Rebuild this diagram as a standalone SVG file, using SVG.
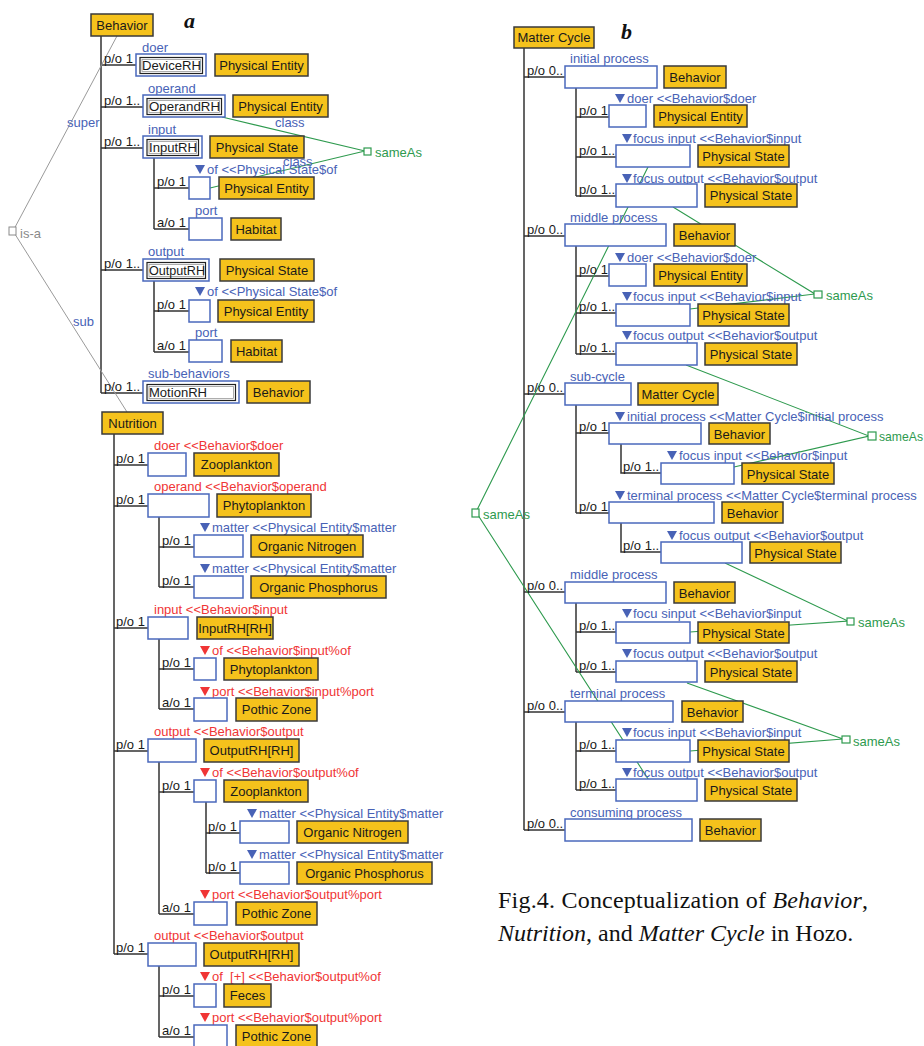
<svg xmlns="http://www.w3.org/2000/svg" xmlns:xlink="http://www.w3.org/1999/xlink" width="924" height="1046" viewBox="0 0 924 1046">
<style>
text{font-family:"Liberation Sans",Arial,sans-serif;font-size:13px;fill:#1a1a1a}
.c{text-anchor:middle}
.bl{fill:#4862B6}
.rd{fill:#F03535}
.gn{fill:#2E9A4E}
.gy{fill:#8a8a8a}
.o{fill:#F5C21C;stroke:#3a3a3a;stroke-width:1.5}
.b{fill:#fff;stroke:#4A68BC;stroke-width:1.5}
.in{fill:none;stroke:#222;stroke-width:1.2}
.in2{fill:none;stroke:#999;stroke-width:0.8}
.ln{fill:none;stroke:#333;stroke-width:1.5}
.gl{fill:none;stroke:#2E9A4E;stroke-width:1.1}
.gyl{fill:none;stroke:#9a9a9a;stroke-width:1}
.sq{fill:#fff;stroke:#2E9A4E;stroke-width:1.2}
.cap{font-family:"Liberation Serif","Times New Roman",serif;font-size:24px;fill:#111}
.lt{font-family:"Liberation Serif","Times New Roman",serif;font-size:22px;font-weight:bold;font-style:italic;fill:#111}
</style>
<defs>
<path id="tri" d="M0,0H10L5,9Z"/>
</defs>
<rect width="924" height="1046" fill="#fff"/>

<g id="connectors">
<path class="ln" d="M101,36V393M101,65H136M101,107H143M101,148H143M101,270H143M101,393H143"/>
<path class="ln" d="M154,158V229M154,188H189M154,229H189"/>
<path class="ln" d="M154,281V352M154,311H189M154,352H189"/>
<path class="ln" d="M114,434V954M114,465H148M114,506H148M114,628H148M114,751H148M114,954H148"/>
<path class="ln" d="M159,517V587M159,547H194M159,587H194"/>
<path class="ln" d="M159,639V709M159,669H194M159,709H194"/>
<path class="ln" d="M159,762V914M159,792H194M159,914H194"/>
<path class="ln" d="M206,802V873M206,833H240M206,873H240"/>
<path class="ln" d="M159,966V1037M159,996H194M159,1037H194"/>
<path class="ln" d="M524,48V830M524,77H565M524,236H565M524,394H565M524,592H565M524,712H565M524,830H565"/>
<path class="ln" d="M576,88V196M576,117H609M576,157H616M576,196H616"/>
<path class="ln" d="M576,246V354M576,276H609M576,313H616M576,354H616"/>
<path class="ln" d="M576,405V513M576,433H609M576,513H609"/>
<path class="ln" d="M621,444V473H661M621,523V552H661"/>
<path class="ln" d="M576,603V672M576,632H616M576,672H616"/>
<path class="ln" d="M576,722V790M576,751H616M576,790H616"/>
<path class="gyl" d="M117,36L13,231L127,412"/>
<path class="gl" d="M222,117L365,151L210,188"/>
<path class="gl" d="M673,207L815,294L690,309"/>
<path class="gl" d="M686,365L869,436L734,467"/>
<path class="gl" d="M725,563L848,621L690,632"/>
<path class="gl" d="M687,683L843,739L690,751"/>
<path class="gl" d="M650,163L476,512L650,782"/>
</g>

<g id="label-a"><text class="lt" x="184" y="28">a</text></g>
<g id="label-b"><text class="lt" x="621" y="39">b</text></g>

<g id="isa-node">
<rect x="9" y="227" width="7" height="8" fill="#fff" stroke="#8a8a8a" stroke-width="1"/>
<text class="gy" x="20" y="238">is-a</text>
<text class="bl" x="67" y="127">super</text>
<text class="bl" x="73" y="326">sub</text>
</g>

<g id="sameas-a">
<rect class="sq" x="364" y="148" width="7" height="7"/>
<text class="gn" x="375" y="157">sameAs</text>
<text class="bl" x="275" y="127">class</text>
<text class="bl" x="283" y="166">class</text>
</g>

<g id="behavior">
<rect class="o" x="91" y="14" width="62" height="22"/>
<text class="c" x="122" y="30">Behavior</text>
</g>

<g id="b-doer">
<text x="104" y="63">p/o 1</text>
<text class="bl" x="142" y="52">doer</text>
<rect class="b" x="136" y="54" width="70" height="22"/>
<rect class="in" x="140" y="57.5" width="62.5" height="16"/>
<rect class="in2" x="142" y="59.5" width="58.5" height="12"/>
<text x="142" y="70" textLength="59" lengthAdjust="spacingAndGlyphs">DeviceRH</text>
<rect class="o" x="215" y="54" width="93" height="22"/>
<text class="c" x="261.5" y="70">Physical Entity</text>
</g>

<g id="b-operand">
<text x="104" y="105">p/o 1..</text>
<text class="bl" x="148" y="93">operand</text>
<rect class="b" x="143" y="95" width="82" height="22"/>
<rect class="in" x="147" y="98.5" width="74.5" height="16"/>
<rect class="in2" x="149" y="100.5" width="70.5" height="12"/>
<text x="149" y="111" textLength="71" lengthAdjust="spacingAndGlyphs">OperandRH</text>
<rect class="o" x="233" y="95" width="95" height="22"/>
<text class="c" x="280.5" y="111">Physical Entity</text>
</g>

<g id="b-input">
<text x="104" y="146">p/o 1..</text>
<text class="bl" x="148" y="134">input</text>
<rect class="b" x="143" y="136" width="59" height="22"/>
<rect class="in" x="147" y="139.5" width="51.5" height="16"/>
<rect class="in2" x="149" y="141.5" width="47.5" height="12"/>
<text x="149" y="152" textLength="48" lengthAdjust="spacingAndGlyphs">InputRH</text>
<rect class="o" x="210" y="136" width="94" height="22"/>
<text class="c" x="257" y="152">Physical State</text>
</g>

<g id="b-input-of">
<text x="157" y="186">p/o 1</text>
<use href="#tri" x="195" y="165" class="bl"/>
<text class="bl" x="207" y="174">of &lt;&lt;Physical State$of</text>
<rect class="b" x="189" y="177" width="21" height="22"/>
<rect class="o" x="219" y="177" width="95" height="22"/>
<text class="c" x="266.5" y="193">Physical Entity</text>
</g>

<g id="b-input-port">
<text x="157" y="227">a/o 1</text>
<text class="bl" x="195" y="215">port</text>
<rect class="b" x="189" y="218" width="33" height="22"/>
<rect class="o" x="231" y="218" width="50" height="22"/>
<text class="c" x="256" y="234">Habitat</text>
</g>

<g id="b-output">
<text x="104" y="268">p/o 1..</text>
<text class="bl" x="148" y="256">output</text>
<rect class="b" x="143" y="259" width="66" height="22"/>
<rect class="in" x="147" y="262.5" width="58.5" height="16"/>
<rect class="in2" x="149" y="264.5" width="54.5" height="12"/>
<text x="149" y="275" textLength="56" lengthAdjust="spacingAndGlyphs">OutputRH</text>
<rect class="o" x="220" y="259" width="94" height="22"/>
<text class="c" x="267" y="275">Physical State</text>
</g>

<g id="b-output-of">
<text x="157" y="309">p/o 1</text>
<use href="#tri" x="195" y="287" class="bl"/>
<text class="bl" x="207" y="296">of &lt;&lt;Physical State$of</text>
<rect class="b" x="189" y="300" width="21" height="22"/>
<rect class="o" x="218" y="300" width="96" height="22"/>
<text class="c" x="266" y="316">Physical Entity</text>
</g>

<g id="b-output-port">
<text x="157" y="350">a/o 1</text>
<text class="bl" x="195" y="337">port</text>
<rect class="b" x="189" y="340" width="33" height="22"/>
<rect class="o" x="231" y="340" width="51" height="22"/>
<text class="c" x="256.5" y="356">Habitat</text>
</g>

<g id="b-sub">
<text x="104" y="391">p/o 1..</text>
<text class="bl" x="148" y="378">sub-behaviors</text>
<rect class="b" x="143" y="381" width="96" height="22"/>
<rect class="in" x="147" y="384.5" width="88.5" height="16"/>
<rect class="in2" x="149" y="386.5" width="84.5" height="12"/>
<text x="149" y="397" textLength="58" lengthAdjust="spacingAndGlyphs">MotionRH</text>
<rect class="o" x="247" y="381" width="63" height="22"/>
<text class="c" x="278.5" y="397">Behavior</text>
</g>

<g id="nutrition">
<rect class="o" x="102" y="412" width="61" height="22"/>
<text class="c" x="132.5" y="428">Nutrition</text>
</g>

<g id="n-doer">
<text x="116" y="463">p/o 1</text>
<text class="rd" x="154" y="450">doer &lt;&lt;Behavior$doer</text>
<rect class="b" x="148" y="453" width="38" height="23"/>
<rect class="o" x="194" y="453" width="85" height="23"/>
<text class="c" x="236.5" y="469">Zooplankton</text>
</g>

<g id="n-operand">
<text x="116" y="504">p/o 1</text>
<text class="rd" x="154" y="491">operand &lt;&lt;Behavior$operand</text>
<rect class="b" x="148" y="494" width="61" height="23"/>
<rect class="o" x="217" y="494" width="94" height="23"/>
<text class="c" x="264" y="510">Phytoplankton</text>
</g>

<g id="n-operand-m1">
<text x="162" y="545">p/o 1</text>
<use href="#tri" x="200" y="523" class="bl"/>
<text class="bl" x="212" y="532">matter &lt;&lt;Physical Entity$matter</text>
<rect class="b" x="194" y="535" width="49" height="22"/>
<rect class="o" x="251" y="535" width="112" height="22"/>
<text class="c" x="307" y="551">Organic Nitrogen</text>
</g>

<g id="n-operand-m2">
<text x="162" y="585">p/o 1</text>
<use href="#tri" x="200" y="564" class="bl"/>
<text class="bl" x="212" y="573">matter &lt;&lt;Physical Entity$matter</text>
<rect class="b" x="194" y="576" width="49" height="22"/>
<rect class="o" x="251" y="576" width="135" height="22"/>
<text class="c" x="318.5" y="592">Organic Phosphorus</text>
</g>

<g id="n-input">
<text x="116" y="626">p/o 1</text>
<text class="rd" x="154" y="614">input &lt;&lt;Behavior$input</text>
<rect class="b" x="148" y="617" width="40" height="22"/>
<rect class="o" x="197" y="617" width="76" height="22"/>
<text class="c" x="235" y="633">InputRH[RH]</text>
</g>

<g id="n-input-of">
<text x="162" y="667">p/o 1</text>
<use href="#tri" x="200" y="646" class="rd"/>
<text class="rd" x="212" y="655">of &lt;&lt;Behavior$input%of</text>
<rect class="b" x="194" y="658" width="22" height="22"/>
<rect class="o" x="224" y="658" width="94" height="22"/>
<text class="c" x="271" y="674">Phytoplankton</text>
</g>

<g id="n-input-port">
<text x="162" y="707">a/o 1</text>
<use href="#tri" x="200" y="687" class="rd"/>
<text class="rd" x="212" y="696">port &lt;&lt;Behavior$input%port</text>
<rect class="b" x="194" y="698" width="33" height="23"/>
<rect class="o" x="236" y="698" width="81" height="23"/>
<text class="c" x="276.5" y="714">Pothic Zone</text>
</g>

<g id="n-output1">
<text x="116" y="749">p/o 1</text>
<text class="rd" x="154" y="736">output &lt;&lt;Behavior$output</text>
<rect class="b" x="148" y="739" width="48" height="23"/>
<rect class="o" x="204" y="739" width="95" height="23"/>
<text class="c" x="251.5" y="755">OutputRH[RH]</text>
</g>

<g id="n-output1-of">
<text x="162" y="790">p/o 1</text>
<use href="#tri" x="200" y="768" class="rd"/>
<text class="rd" x="212" y="777">of &lt;&lt;Behavior$output%of</text>
<rect class="b" x="194" y="780" width="22" height="22"/>
<rect class="o" x="224" y="780" width="84" height="22"/>
<text class="c" x="266" y="796">Zooplankton</text>
</g>

<g id="n-output1-m1">
<text x="208" y="831">p/o 1</text>
<use href="#tri" x="247" y="809" class="bl"/>
<text class="bl" x="259" y="818">matter &lt;&lt;Physical Entity$matter</text>
<rect class="b" x="240" y="821" width="49" height="22"/>
<rect class="o" x="297" y="821" width="111" height="22"/>
<text class="c" x="352.5" y="837">Organic Nitrogen</text>
</g>

<g id="n-output1-m2">
<text x="208" y="871">p/o 1</text>
<use href="#tri" x="247" y="850" class="bl"/>
<text class="bl" x="259" y="859">matter &lt;&lt;Physical Entity$matter</text>
<rect class="b" x="240" y="862" width="49" height="22"/>
<rect class="o" x="297" y="862" width="135" height="22"/>
<text class="c" x="364.5" y="878">Organic Phosphorus</text>
</g>

<g id="n-output1-port">
<text x="162" y="912">a/o 1</text>
<use href="#tri" x="200" y="890" class="rd"/>
<text class="rd" x="212" y="899">port &lt;&lt;Behavior$output%port</text>
<rect class="b" x="194" y="902" width="33" height="23"/>
<rect class="o" x="236" y="902" width="81" height="23"/>
<text class="c" x="276.5" y="918">Pothic Zone</text>
</g>

<g id="n-output2">
<text x="116" y="952">p/o 1</text>
<text class="rd" x="154" y="940">output &lt;&lt;Behavior$output</text>
<rect class="b" x="148" y="943" width="48" height="23"/>
<rect class="o" x="204" y="943" width="95" height="23"/>
<text class="c" x="251.5" y="959">OutputRH[RH]</text>
</g>

<g id="n-output2-of">
<text x="162" y="994">p/o 1</text>
<use href="#tri" x="200" y="972" class="rd"/>
<text class="rd" x="212" y="981" style="white-space:pre">of  [+] &lt;&lt;Behavior$output%of</text>
<rect class="b" x="194" y="984" width="22" height="23"/>
<rect class="o" x="224" y="984" width="47" height="23"/>
<text class="c" x="247.5" y="1000">Feces</text>
</g>

<g id="n-output2-port">
<text x="162" y="1035">a/o 1</text>
<use href="#tri" x="200" y="1013" class="rd"/>
<text class="rd" x="212" y="1022">port &lt;&lt;Behavior$output%port</text>
<rect class="b" x="194" y="1025" width="33" height="24"/>
<rect class="o" x="236" y="1025" width="81" height="24"/>
<text class="c" x="276.5" y="1041">Pothic Zone</text>
</g>

<g id="matter-cycle">
<rect class="o" x="514" y="27" width="80" height="21"/>
<text class="c" x="554" y="42">Matter Cycle</text>
</g>

<g id="m-initial">
<text x="527" y="75">p/o 0..</text>
<text class="bl" x="570" y="63">initial process</text>
<rect class="b" x="565" y="66" width="92" height="22"/>
<rect class="o" x="664" y="66" width="62" height="22"/>
<text class="c" x="695" y="82">Behavior</text>
</g>
<g id="m-initial-doer">
<text x="579" y="115">p/o 1</text>
<use href="#tri" x="615" y="94" class="bl"/>
<text class="bl" x="627" y="103">doer &lt;&lt;Behavior$doer</text>
<rect class="b" x="609" y="105" width="37" height="22"/>
<rect class="o" x="654" y="105" width="93" height="22"/>
<text class="c" x="700.5" y="121">Physical Entity</text>
</g>
<g id="m-initial-in">
<text x="579" y="155">p/o 1..</text>
<use href="#tri" x="622" y="134" class="bl"/>
<text class="bl" x="633" y="143">focus input &lt;&lt;Behavior$input</text>
<rect class="b" x="616" y="145" width="74" height="22"/>
<rect class="o" x="698" y="145" width="91" height="22"/>
<text class="c" x="743.5" y="161">Physical State</text>
</g>
<g id="m-initial-out">
<text x="579" y="194">p/o 1..</text>
<use href="#tri" x="622" y="174" class="bl"/>
<text class="bl" x="633" y="183">focus output &lt;&lt;Behavior$output</text>
<rect class="b" x="616" y="184" width="81" height="23"/>
<rect class="o" x="705" y="184" width="92" height="23"/>
<text class="c" x="751" y="200">Physical State</text>
</g>

<g id="m-middle1">
<text x="527" y="234">p/o 0..</text>
<text class="bl" x="570" y="222">middle process</text>
<rect class="b" x="565" y="224" width="101" height="22"/>
<rect class="o" x="674" y="224" width="61" height="22"/>
<text class="c" x="704.5" y="240">Behavior</text>
</g>
<g id="m-middle1-doer">
<text x="579" y="274">p/o 1</text>
<use href="#tri" x="615" y="253" class="bl"/>
<text class="bl" x="627" y="262">doer &lt;&lt;Behavior$doer</text>
<rect class="b" x="609" y="264" width="37" height="22"/>
<rect class="o" x="654" y="264" width="93" height="22"/>
<text class="c" x="700.5" y="280">Physical Entity</text>
</g>
<g id="m-middle1-in">
<text x="579" y="311">p/o 1..</text>
<use href="#tri" x="622" y="292" class="bl"/>
<text class="bl" x="633" y="301">focus input &lt;&lt;Behavior$input</text>
<rect class="b" x="616" y="304" width="74" height="22"/>
<rect class="o" x="698" y="304" width="91" height="22"/>
<text class="c" x="743.5" y="320">Physical State</text>
</g>
<g id="m-middle1-out">
<text x="579" y="352">p/o 1..</text>
<use href="#tri" x="622" y="331" class="bl"/>
<text class="bl" x="633" y="340">focus output &lt;&lt;Behavior$output</text>
<rect class="b" x="616" y="343" width="81" height="22"/>
<rect class="o" x="705" y="343" width="92" height="22"/>
<text class="c" x="751" y="359">Physical State</text>
</g>

<g id="m-subcycle">
<text x="527" y="392">p/o 0..</text>
<text class="bl" x="570" y="381">sub-cycle</text>
<rect class="b" x="565" y="383" width="66" height="22"/>
<rect class="o" x="638" y="383" width="80" height="22"/>
<text class="c" x="678" y="399">Matter Cycle</text>
</g>
<g id="m-sub-initial">
<text x="579" y="431">p/o 1</text>
<use href="#tri" x="615" y="412" class="bl"/>
<text class="bl" x="627" y="421">initial process &lt;&lt;Matter Cycle$initial process</text>
<rect class="b" x="609" y="423" width="92" height="21"/>
<rect class="o" x="709" y="423" width="61" height="21"/>
<text class="c" x="739.5" y="439">Behavior</text>
</g>
<g id="m-sub-initial-in">
<text x="623" y="471">p/o 1..</text>
<use href="#tri" x="667" y="451" class="bl"/>
<text class="bl" x="679" y="460">focus input &lt;&lt;Behavior$input</text>
<rect class="b" x="661" y="463" width="73" height="21"/>
<rect class="o" x="742" y="463" width="92" height="21"/>
<text class="c" x="788" y="479">Physical State</text>
</g>
<g id="m-sub-terminal">
<text x="579" y="511">p/o 1</text>
<use href="#tri" x="615" y="491" class="bl"/>
<text class="bl" x="627" y="500">terminal process &lt;&lt;Matter Cycle$terminal process</text>
<rect class="b" x="609" y="502" width="105" height="21"/>
<rect class="o" x="722" y="502" width="61" height="21"/>
<text class="c" x="752.5" y="518">Behavior</text>
</g>
<g id="m-sub-terminal-out">
<text x="623" y="550">p/o 1..</text>
<use href="#tri" x="667" y="531" class="bl"/>
<text class="bl" x="679" y="540">focus output &lt;&lt;Behavior$output</text>
<rect class="b" x="661" y="542" width="81" height="21"/>
<rect class="o" x="750" y="542" width="91" height="21"/>
<text class="c" x="795.5" y="558">Physical State</text>
</g>

<g id="m-middle2">
<text x="527" y="590">p/o 0..</text>
<text class="bl" x="570" y="579">middle process</text>
<rect class="b" x="565" y="582" width="101" height="21"/>
<rect class="o" x="674" y="582" width="61" height="21"/>
<text class="c" x="704.5" y="598">Behavior</text>
</g>
<g id="m-middle2-in">
<text x="579" y="630">p/o 1..</text>
<use href="#tri" x="622" y="609" class="bl"/>
<text class="bl" x="633" y="618">focu sinput &lt;&lt;Behavior$input</text>
<rect class="b" x="616" y="622" width="74" height="21"/>
<rect class="o" x="698" y="622" width="91" height="21"/>
<text class="c" x="743.5" y="638">Physical State</text>
</g>
<g id="m-middle2-out">
<text x="579" y="670">p/o 1..</text>
<use href="#tri" x="622" y="649" class="bl"/>
<text class="bl" x="633" y="658">focus output &lt;&lt;Behavior$output</text>
<rect class="b" x="616" y="661" width="81" height="21"/>
<rect class="o" x="705" y="661" width="92" height="21"/>
<text class="c" x="751" y="677">Physical State</text>
</g>

<g id="m-terminal">
<text x="527" y="710">p/o 0..</text>
<text class="bl" x="570" y="698">terminal process</text>
<rect class="b" x="565" y="701" width="108" height="21"/>
<rect class="o" x="682" y="701" width="61" height="21"/>
<text class="c" x="712.5" y="717">Behavior</text>
</g>
<g id="m-terminal-in">
<text x="579" y="749">p/o 1..</text>
<use href="#tri" x="622" y="728" class="bl"/>
<text class="bl" x="633" y="737">focus input &lt;&lt;Behavior$input</text>
<rect class="b" x="616" y="740" width="74" height="22"/>
<rect class="o" x="698" y="740" width="91" height="22"/>
<text class="c" x="743.5" y="756">Physical State</text>
</g>
<g id="m-terminal-out">
<text x="579" y="788">p/o 1..</text>
<use href="#tri" x="622" y="768" class="bl"/>
<text class="bl" x="633" y="777">focus output &lt;&lt;Behavior$output</text>
<rect class="b" x="616" y="779" width="81" height="22"/>
<rect class="o" x="705" y="779" width="92" height="22"/>
<text class="c" x="751" y="795">Physical State</text>
</g>

<g id="m-consuming">
<text x="527" y="828">p/o 0..</text>
<text class="bl" x="570" y="817">consuming process</text>
<rect class="b" x="565" y="819" width="127" height="22"/>
<rect class="o" x="700" y="819" width="61" height="22"/>
<text class="c" x="730.5" y="835">Behavior</text>
</g>

<g id="sameas-b">
<rect class="sq" x="472" y="509" width="7" height="8"/>
<text class="gn" x="483" y="519">sameAs</text>
<rect class="sq" x="814" y="291" width="8" height="7"/>
<text class="gn" x="826" y="300">sameAs</text>
<rect class="sq" x="868" y="432" width="8" height="8"/>
<text class="gn" x="879" y="441" textLength="44" lengthAdjust="spacingAndGlyphs">sameAs</text>
<rect class="sq" x="847" y="618" width="7" height="7"/>
<text class="gn" x="858" y="627">sameAs</text>
<rect class="sq" x="842" y="736" width="8" height="7"/>
<text class="gn" x="853" y="746">sameAs</text>
</g>

<g id="caption">
<text class="cap" x="498" y="908" textLength="370" lengthAdjust="spacing">Fig.4. Conceptualization of <tspan font-style="italic">Behavior</tspan>,</text>
<text class="cap" x="498" y="941"><tspan font-style="italic">Nutrition</tspan>, and <tspan font-style="italic">Matter Cycle</tspan> in Hozo.</text>
</g>
</svg>
